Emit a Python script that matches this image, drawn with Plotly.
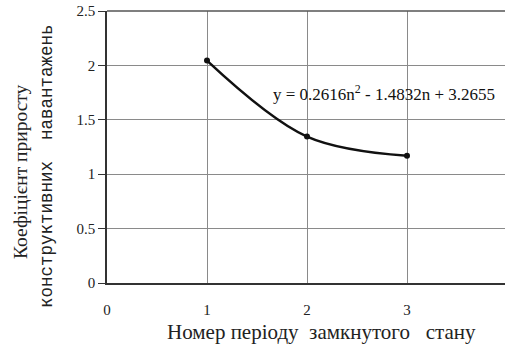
import plotly.graph_objects as go

periods = [1, 2, 3]
coef = [2.044, 1.346, 1.170]
x_ticks = [0, 1, 2, 3, 4]
y_ticks = [0, 0.5, 1, 1.5, 2, 2.5]
y_tick_labels = ["0", "0.5", "1", "1.5", "2", "2.5"]
equation = "y = 0.2616n<sup>2</sup> - 1.4832n + 3.2655"
x_title = "Номер періоду  замкнутого   стану"
y_title_1 = "Коефіцієнт приросту"
y_title_2 = "конструктивних  навантажень"

font = "Liberation Serif, Times New Roman, serif"
mono = "Liberation Mono, Courier New, monospace"

fig = go.Figure()
fig.add_trace(go.Scatter(
    x=periods, y=coef, mode="lines+markers",
    line=dict(color="#111", width=2.5, shape="spline", smoothing=1.0),
    marker=dict(color="#111", size=6),
    showlegend=False, hoverinfo="skip"))

fig.update_layout(
    width=505, height=345,
    margin=dict(l=107, r=0, t=11, b=62),
    paper_bgcolor="white", plot_bgcolor="white",
    font=dict(family=font, color="#222", size=15),
    xaxis=dict(range=[0, 3.98], tickvals=x_ticks, ticks="", automargin=False,
               showgrid=True, gridcolor="#8a8a8a", gridwidth=1,
               showline=True, linecolor="#333", linewidth=1.5,
               ticklabelstandoff=12, zeroline=False,
               tickfont=dict(family=font, size=15, color="#222")),
    yaxis=dict(range=[0, 2.5], tickvals=y_ticks, ticktext=y_tick_labels,
               ticks="outside", ticklen=7, tickcolor="#333", automargin=False,
               showgrid=True, gridcolor="#8a8a8a", gridwidth=1,
               showline=True, linecolor="#333", linewidth=1.5,
               mirror=False, zeroline=False,
               tickfont=dict(family=font, size=15, color="#222")),
)

fig.add_shape(type="line", xref="paper", yref="paper", x0=0, x1=1, y0=1, y1=1,
              line=dict(color="#555", width=1.5))

fig.add_annotation(x=2.77, y=1.745, text=equation, showarrow=False,
                   font=dict(family=font, size=17, color="#111"))
fig.add_annotation(xref="paper", yref="paper", x=0.54, y=0, yshift=-49,
                   text=x_title, showarrow=False, yanchor="middle",
                   font=dict(family=font, size=21, color="#222"))
fig.add_annotation(xref="paper", yref="paper", x=0, xshift=-99, y=0.41,
                   text=y_title_1, showarrow=False, textangle=-90,
                   font=dict(family=font, size=19.5, color="#222"))
fig.add_annotation(xref="paper", yref="paper", x=0, xshift=-72, y=0.43,
                   text=y_title_2, showarrow=False, textangle=-90,
                   font=dict(family=mono, size=17.5, color="#222"))

fig.write_html(
    "out.html",
    config={"displayModeBar": False},
    post_script=("document.body.style.margin='0';"
                 "document.body.style.overflow='hidden';"
                 "document.documentElement.style.overflow='hidden';"),
)
